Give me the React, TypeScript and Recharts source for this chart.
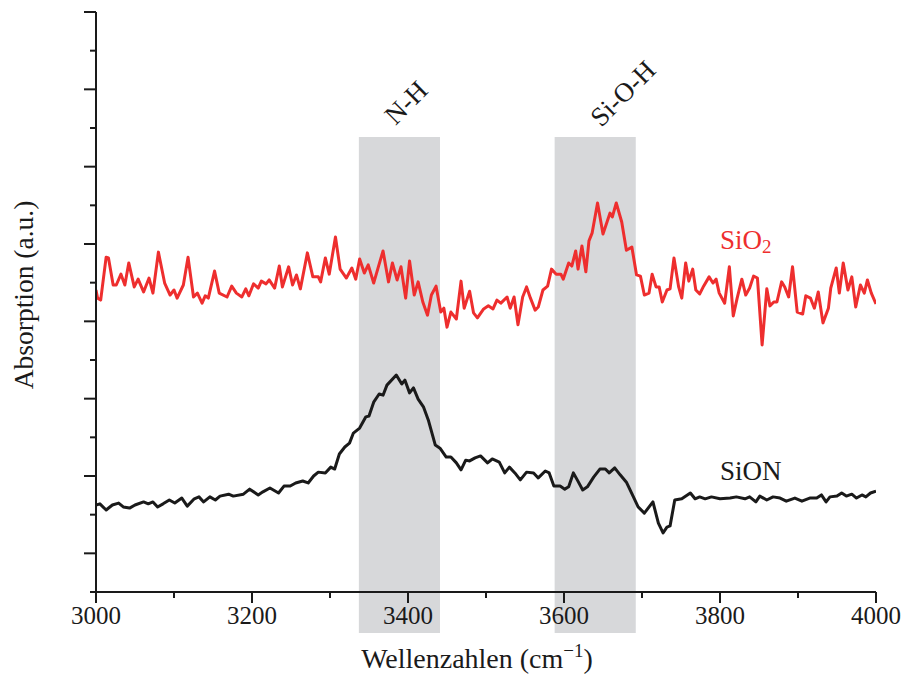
import React from "react";
import {
  LineChart,
  Line,
  XAxis,
  YAxis,
  ReferenceArea,
  ReferenceDot,
} from "recharts";

// ---------- data ----------
const sio2Wavenumber = [
  3000, 3002, 3006, 3013, 3016, 3022, 3026, 3032, 3037, 3042, 3049, 3054, 3061, 3068, 3073, 3080,
  3088, 3095, 3100, 3104, 3112, 3118, 3125, 3130, 3136, 3140, 3144, 3152, 3158, 3168, 3174, 3180,
  3187, 3192, 3196, 3202, 3208, 3212, 3218, 3222, 3229, 3235, 3239, 3247, 3252, 3257, 3262, 3271,
  3278, 3285, 3288, 3294, 3299, 3307, 3313, 3321, 3328, 3333, 3338, 3344, 3349, 3356, 3362, 3368,
  3375, 3380, 3386, 3391, 3397, 3402, 3408, 3413, 3419, 3425, 3430, 3436, 3442, 3446, 3450, 3455,
  3462, 3468, 3472, 3479, 3484, 3489, 3497, 3503, 3509, 3514, 3519, 3522, 3527, 3531, 3536, 3541,
  3547, 3552, 3557, 3563, 3567, 3573, 3579, 3584, 3590, 3596, 3599, 3606, 3610, 3615, 3618, 3623,
  3628, 3632, 3636, 3643, 3650, 3659, 3662, 3667, 3674, 3680, 3687, 3693, 3698, 3703, 3709, 3713,
  3718, 3722, 3726, 3732, 3736, 3741, 3747, 3751, 3756, 3760, 3765, 3769, 3774, 3779, 3786, 3791,
  3795, 3799, 3806, 3812, 3817, 3822, 3828, 3833, 3838, 3843, 3848, 3854, 3860, 3864, 3869, 3873,
  3879, 3883, 3888, 3893, 3899, 3906, 3910, 3916, 3921, 3926, 3932, 3939, 3942, 3949, 3953, 3958,
  3964, 3969, 3974, 3980, 3985, 3989, 3994, 4000,
];
const sio2Absorption = [
  7.81, 7.6, 7.55, 8.66, 8.64, 7.94, 7.94, 8.22, 7.94, 8.51, 7.89, 8.09, 7.76, 8.12, 7.73, 8.79,
  7.99, 7.68, 7.81, 7.6, 7.94, 8.66, 7.63, 7.73, 7.47, 7.66, 7.6, 8.3, 7.73, 7.63, 7.91, 7.73,
  7.63, 7.84, 7.66, 7.97, 7.86, 8.04, 7.97, 8.07, 7.86, 8.43, 7.89, 8.41, 7.94, 8.2, 7.84, 8.77,
  8.15, 8.15, 8.02, 8.64, 8.22, 9.18, 8.35, 8.12, 8.38, 8.09, 8.61, 8.25, 8.46, 7.99, 8.41, 8.82,
  8.02, 8.51, 8.07, 8.41, 7.6, 8.56, 7.68, 8.02, 7.5, 7.16, 7.68, 7.91, 7.24, 7.34, 6.85, 7.24,
  7.06, 8.04, 7.34, 7.78, 7.22, 7.09, 7.32, 7.4, 7.32, 7.55, 7.47, 7.53, 7.63, 7.34, 7.63, 6.91,
  7.63, 7.89, 7.6, 7.29, 7.37, 7.81, 7.91, 8.35, 8.22, 8.22, 8.09, 8.51, 8.43, 8.82, 8.35, 8.95,
  8.28, 9.08, 9.28, 10.06, 9.26, 9.8, 9.7, 10.06, 9.57, 8.84, 8.92, 8.2, 8.17, 7.68, 7.73, 8.22,
  7.89, 7.89, 7.5, 7.81, 7.84, 8.64, 7.89, 7.6, 8.51, 8.04, 8.35, 7.81, 7.71, 7.91, 8.15, 7.99,
  8.09, 7.73, 7.47, 8.41, 7.14, 7.6, 8.09, 7.68, 7.86, 8.17, 8.12, 6.39, 7.84, 7.4, 7.5, 7.5,
  8.02, 7.89, 7.63, 8.41, 7.24, 7.19, 7.66, 7.6, 7.34, 7.76, 6.96, 7.34, 7.86, 8.38, 7.73, 8.51,
  7.81, 8.15, 7.37, 7.94, 7.73, 8.07, 7.73, 7.45,
];

const sionWavenumber = [
  3000, 3005, 3013, 3021, 3029, 3035, 3043, 3050, 3061, 3067, 3073, 3079, 3086, 3094, 3101, 3110,
  3117, 3126, 3132, 3138, 3146, 3153, 3159, 3170, 3176, 3189, 3197, 3208, 3214, 3223, 3234, 3241,
  3249, 3256, 3265, 3272, 3279, 3285, 3294, 3301, 3306, 3312, 3319, 3325, 3330, 3338, 3346, 3350,
  3356, 3363, 3368, 3373, 3385, 3392, 3396, 3402, 3407, 3413, 3420, 3426, 3435, 3441, 3449, 3455,
  3462, 3468, 3474, 3479, 3486, 3493, 3502, 3508, 3517, 3524, 3530, 3537, 3544, 3552, 3561, 3567,
  3576, 3581, 3587, 3595, 3601, 3606, 3612, 3617, 3624, 3630, 3638, 3646, 3653, 3658, 3665, 3672,
  3680, 3689, 3695, 3703, 3714, 3721, 3727, 3732, 3736, 3742, 3751, 3762, 3768, 3774, 3781, 3789,
  3800, 3813, 3821, 3832, 3838, 3846, 3851, 3860, 3868, 3877, 3885, 3896, 3905, 3915, 3924, 3930,
  3936, 3941, 3950, 3956, 3962, 3969, 3975, 3982, 3987, 3993, 4000,
];
const sionAbsorption = [
  2.25, 2.28, 2.12, 2.25, 2.3, 2.2, 2.17, 2.25, 2.33, 2.28, 2.33, 2.2, 2.28, 2.38, 2.3, 2.43,
  2.22, 2.41, 2.46, 2.33, 2.46, 2.38, 2.48, 2.53, 2.48, 2.53, 2.66, 2.51, 2.59, 2.69, 2.56, 2.74,
  2.74, 2.82, 2.87, 2.82, 3.0, 3.1, 3.08, 3.23, 3.18, 3.57, 3.75, 3.85, 4.11, 4.24, 4.53, 4.55,
  4.91, 5.12, 5.09, 5.35, 5.61, 5.38, 5.48, 5.15, 5.28, 4.99, 4.78, 4.45, 3.8, 3.72, 3.49, 3.49,
  3.34, 3.16, 3.41, 3.39, 3.47, 3.52, 3.34, 3.44, 3.36, 3.08, 3.23, 3.08, 2.9, 3.1, 3.08, 2.95,
  3.13, 3.08, 2.74, 2.74, 2.66, 2.72, 3.08, 2.9, 2.64, 2.72, 2.97, 3.18, 3.18, 3.08, 3.21, 3.03,
  2.84, 2.46, 2.2, 2.04, 2.33, 1.78, 1.53, 1.68, 1.71, 2.38, 2.41, 2.56, 2.41, 2.46, 2.41, 2.46,
  2.41, 2.43, 2.46, 2.41, 2.46, 2.33, 2.48, 2.38, 2.46, 2.43, 2.35, 2.43, 2.35, 2.43, 2.43, 2.51,
  2.33, 2.46, 2.48, 2.56, 2.48, 2.53, 2.43, 2.51, 2.46, 2.56, 2.61,
];

const xTicks = [3000, 3100, 3200, 3300, 3400, 3500, 3600, 3700, 3800, 3900, 4000];
const yTicks = [0, 1, 2, 3, 4, 5, 6, 7, 8, 9, 10, 11, 12, 13, 14, 15];

const bands = [
  { label: "N-H", from: 3337, to: 3441, dx: -4, dy: -11 },
  { label: "Si-O-H", from: 3588, to: 3692, dx: 6, dy: -9 },
];
const bandBottom = -1.06;
const bandTop = 11.77;

const sio2Label = { x: 3800, y: 8.87 };
const sionLabel = { x: 3800, y: 2.9 };

const sio2Data = sio2Wavenumber.map((x, i) => ({ x, y: sio2Absorption[i] }));
const sionData = sionWavenumber.map((x, i) => ({ x, y: sionAbsorption[i] }));

// ---------- style ----------
const FONT = "'Liberation Serif', 'DejaVu Serif', serif";
const INK = "#1a1a1a";
const RED = "#ee2e2e";
const BAND = "#d7d8da";

const YTick = (props: any) => {
  const { x, y, payload } = props;
  const major = payload.value % 2 === 1;
  return (
    <line x1={x - (major ? 12 : 6)} x2={x} y1={y} y2={y} stroke={INK} strokeWidth={2} />
  );
};

const XTick = (props: any) => {
  const { x, y, payload } = props;
  const major = payload.value % 200 === 0;
  return (
    <g>
      <line x1={x} x2={x} y1={y} y2={y + (major ? 11 : 6)} stroke={INK} strokeWidth={2} />
      {major && (
        <text
          x={x}
          y={y + 32}
          textAnchor="middle"
          fontFamily={FONT}
          style={{ fontFamily: FONT }}
          fontSize={25}
          fill={INK}
          stroke="none"
        >
          {payload.value}
        </text>
      )}
    </g>
  );
};

const bandLabel = (text: string, dx: number, dy: number) => (props: any) => {
  const vb = props.viewBox;
  if (!vb) return null;
  const x = vb.x + vb.width / 2 + dx;
  const y = vb.y + dy;
  return (
    <text
      x={x}
      y={y}
      transform={`rotate(-45 ${x} ${y})`}
      fontFamily={FONT}
      fontSize={27}
      fill={INK}
      textAnchor="start"
    >
      {text}
    </text>
  );
};

const sio2Content = (props: any) => {
  const vb = props.viewBox;
  if (!vb) return null;
  const x = vb.x + vb.width / 2;
  const y = vb.y + vb.height / 2;
  return (
    <text x={x} y={y} fontFamily={FONT} fontSize={27} fill={RED} textAnchor="start">
      SiO
      <tspan fontSize={19} dy={4}>
        2
      </tspan>
    </text>
  );
};

const sionContent = (props: any) => {
  const vb = props.viewBox;
  if (!vb) return null;
  const x = vb.x + vb.width / 2;
  const y = vb.y + vb.height / 2;
  return (
    <text x={x} y={y} fontFamily={FONT} fontSize={27} fill={INK} textAnchor="start">
      SiON
    </text>
  );
};

const xTitle = (props: any) => {
  const vb = props.viewBox;
  if (!vb) return null;
  const x = vb.x + vb.width / 2 - 9;
  return (
    <text x={x} y={vb.y + 76} textAnchor="middle" fontFamily={FONT} fontSize={28} fill={INK}>
      Wellenzahlen (cm
      <tspan fontSize={19} dy={-11}>
        −1
      </tspan>
      <tspan dy={11}>)</tspan>
    </text>
  );
};

const yTitle = (props: any) => {
  const vb = props.viewBox;
  if (!vb) return null;
  const x = 33;
  const y = vb.y + vb.height / 2 - 7;
  return (
    <text
      x={x}
      y={y}
      transform={`rotate(-90 ${x} ${y})`}
      textAnchor="middle"
      fontFamily={FONT}
      fontSize={27.5}
      fill={INK}
    >
      Absorption (a.u.)
    </text>
  );
};

export default function App() {
  return (
    <div style={{ position: "absolute", left: 0, top: 0, width: 904, height: 674 }}>
      <LineChart
        width={904}
        height={674}
        margin={{ top: 12, right: 28, bottom: 0, left: 0 }}
      >
        <XAxis
          type="number"
          dataKey="x"
          domain={[3000, 4000]}
          ticks={xTicks}
          allowDataOverflow
          height={82}
          tickSize={0}
          tickMargin={0}
          tickLine={false}
          tick={<XTick />}
          axisLine={{ stroke: INK, strokeWidth: 2 }}
          interval={0}
          label={{ content: xTitle }}
        />
        <YAxis
          type="number"
          domain={[0, 15]}
          ticks={yTicks}
          allowDataOverflow
          width={96}
          tickSize={0}
          tickMargin={0}
          tickLine={false}
          tick={<YTick />}
          axisLine={{ stroke: INK, strokeWidth: 2 }}
          interval={0}
          label={{ content: yTitle }}
        />
        {bands.map((b) => (
          <ReferenceArea
            key={b.label}
            x1={b.from}
            x2={b.to}
            y1={bandBottom}
            y2={bandTop}
            ifOverflow="visible"
            fill={BAND}
            fillOpacity={1}
            stroke="none"
            label={{ content: bandLabel(b.label, b.dx, b.dy) }}
          />
        ))}
        <Line
          data={sionData}
          dataKey="y"
          type="linear"
          stroke={INK}
          strokeWidth={3}
          strokeLinejoin="round"
          dot={false}
          isAnimationActive={false}
        />
        <Line
          data={sio2Data}
          dataKey="y"
          type="linear"
          stroke={RED}
          strokeWidth={3}
          strokeLinejoin="round"
          dot={false}
          isAnimationActive={false}
        />
        <ReferenceDot
          x={sio2Label.x}
          y={sio2Label.y}
          r={0}
          fill="none"
          stroke="none"
          label={{ content: sio2Content }}
        />
        <ReferenceDot
          x={sionLabel.x}
          y={sionLabel.y}
          r={0}
          fill="none"
          stroke="none"
          label={{ content: sionContent }}
        />
      </LineChart>
    </div>
  );
}
